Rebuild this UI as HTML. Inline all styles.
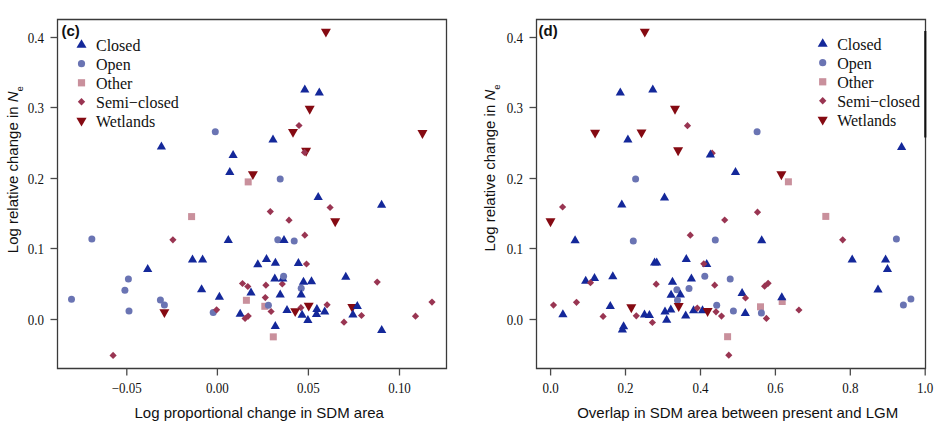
<!DOCTYPE html>
<html><head><meta charset="utf-8"><style>
html,body{margin:0;padding:0;background:#fff;}
svg{display:block;}
.tk{font-family:"Liberation Serif",serif;font-size:13px;fill:#111;}
.ax{font-family:"Liberation Sans",sans-serif;font-size:15px;fill:#111;}
.lg{font-family:"Liberation Serif",serif;font-size:16px;fill:#111;}
.tag{font-family:"Liberation Sans",sans-serif;font-size:15px;font-weight:bold;fill:#111;}
</style></head><body>
<svg width="935" height="427" viewBox="0 0 935 427">
<rect width="935" height="427" fill="#fff"/>
<path d="M57.5 19.5H446.5V368.5H57.5Z" fill="none" stroke="#3a3a3a" stroke-width="1.3"/>
<path d="M50.5 319.5H57.5" stroke="#4a4a4a" stroke-width="1.3"/>
<text transform="translate(44,324.5) scale(1,1.08)" text-anchor="end" class="tk">0.0</text>
<path d="M50.5 248.5H57.5" stroke="#4a4a4a" stroke-width="1.3"/>
<text transform="translate(44,253.5) scale(1,1.08)" text-anchor="end" class="tk">0.1</text>
<path d="M50.5 178.5H57.5" stroke="#4a4a4a" stroke-width="1.3"/>
<text transform="translate(44,183.5) scale(1,1.08)" text-anchor="end" class="tk">0.2</text>
<path d="M50.5 107.5H57.5" stroke="#4a4a4a" stroke-width="1.3"/>
<text transform="translate(44,112.5) scale(1,1.08)" text-anchor="end" class="tk">0.3</text>
<path d="M50.5 37.5H57.5" stroke="#4a4a4a" stroke-width="1.3"/>
<text transform="translate(44,42.5) scale(1,1.08)" text-anchor="end" class="tk">0.4</text>
<path d="M126.8 368.5V375.5" stroke="#4a4a4a" stroke-width="1.3"/>
<text transform="translate(126.8,393.1) scale(1,1.06)" text-anchor="middle" class="tk">−0.05</text>
<path d="M217.4 368.5V375.5" stroke="#4a4a4a" stroke-width="1.3"/>
<text transform="translate(217.4,393.1) scale(1,1.06)" text-anchor="middle" class="tk">0.00</text>
<path d="M308.4 368.5V375.5" stroke="#4a4a4a" stroke-width="1.3"/>
<text transform="translate(308.4,393.1) scale(1,1.06)" text-anchor="middle" class="tk">0.05</text>
<path d="M399.5 368.5V375.5" stroke="#4a4a4a" stroke-width="1.3"/>
<text transform="translate(399.5,393.1) scale(1,1.06)" text-anchor="middle" class="tk">0.10</text>
<text x="134.5" y="417.9" class="ax">Log proportional change in SDM area</text>
<text x="61.5" y="35.8" class="tag">(c)</text>
<path d="M81.5 39.3L86.5 47.7L76.5 47.7Z" fill="#14289a"/>
<circle cx="81.5" cy="63.7" r="3.6" fill="#6a74b3"/>
<rect x="77.9" y="79.2" width="7.2" height="7.2" fill="#c9909c"/>
<path d="M81.5 98L85.2 101.7L81.5 105.4L77.8 101.7Z" fill="#993552"/>
<path d="M76.4 117.8L86.6 117.8L81.5 126.6Z" fill="#850a12"/>
<text transform="translate(96,50.5) scale(1,1.08)" class="lg">Closed</text>
<text transform="translate(96,69.6) scale(1,1.08)" class="lg">Open</text>
<text transform="translate(96,88.7) scale(1,1.08)" class="lg">Other</text>
<text transform="translate(96,107.8) scale(1,1.08)" class="lg">Semi−closed</text>
<text transform="translate(96,126.9) scale(1,1.08)" class="lg">Wetlands</text>
<path d="M536.5 19.5H925.5V368.5H536.5Z" fill="none" stroke="#3a3a3a" stroke-width="1.3"/>
<path d="M529.5 319.5H536.5" stroke="#4a4a4a" stroke-width="1.3"/>
<text transform="translate(523,324.5) scale(1,1.08)" text-anchor="end" class="tk">0.0</text>
<path d="M529.5 248.5H536.5" stroke="#4a4a4a" stroke-width="1.3"/>
<text transform="translate(523,253.5) scale(1,1.08)" text-anchor="end" class="tk">0.1</text>
<path d="M529.5 178.5H536.5" stroke="#4a4a4a" stroke-width="1.3"/>
<text transform="translate(523,183.5) scale(1,1.08)" text-anchor="end" class="tk">0.2</text>
<path d="M529.5 107.5H536.5" stroke="#4a4a4a" stroke-width="1.3"/>
<text transform="translate(523,112.5) scale(1,1.08)" text-anchor="end" class="tk">0.3</text>
<path d="M529.5 37.5H536.5" stroke="#4a4a4a" stroke-width="1.3"/>
<text transform="translate(523,42.5) scale(1,1.08)" text-anchor="end" class="tk">0.4</text>
<path d="M550.6 368.5V375.5" stroke="#4a4a4a" stroke-width="1.3"/>
<text transform="translate(550.6,393.1) scale(1,1.06)" text-anchor="middle" class="tk">0.0</text>
<path d="M625.5 368.5V375.5" stroke="#4a4a4a" stroke-width="1.3"/>
<text transform="translate(625.5,393.1) scale(1,1.06)" text-anchor="middle" class="tk">0.2</text>
<path d="M700.5 368.5V375.5" stroke="#4a4a4a" stroke-width="1.3"/>
<text transform="translate(700.5,393.1) scale(1,1.06)" text-anchor="middle" class="tk">0.4</text>
<path d="M775.4 368.5V375.5" stroke="#4a4a4a" stroke-width="1.3"/>
<text transform="translate(775.4,393.1) scale(1,1.06)" text-anchor="middle" class="tk">0.6</text>
<path d="M850.3 368.5V375.5" stroke="#4a4a4a" stroke-width="1.3"/>
<text transform="translate(850.3,393.1) scale(1,1.06)" text-anchor="middle" class="tk">0.8</text>
<path d="M925.2 368.5V375.5" stroke="#4a4a4a" stroke-width="1.3"/>
<text transform="translate(925.2,393.1) scale(1,1.06)" text-anchor="middle" class="tk">1.0</text>
<text x="577.2" y="417.9" class="ax">Overlap in SDM area between present and LGM</text>
<text x="538.5" y="35.8" class="tag">(d)</text>
<path d="M822.7 38.3L827.7 46.7L817.7 46.7Z" fill="#14289a"/>
<circle cx="822.7" cy="62.7" r="3.6" fill="#6a74b3"/>
<rect x="819.1" y="78.2" width="7.2" height="7.2" fill="#c9909c"/>
<path d="M822.7 97L826.4 100.7L822.7 104.4L819 100.7Z" fill="#993552"/>
<path d="M817.6 116.8L827.8 116.8L822.7 125.6Z" fill="#850a12"/>
<text transform="translate(837.2,49.5) scale(1,1.08)" class="lg">Closed</text>
<text transform="translate(837.2,68.6) scale(1,1.08)" class="lg">Open</text>
<text transform="translate(837.2,87.7) scale(1,1.08)" class="lg">Other</text>
<text transform="translate(837.2,106.8) scale(1,1.08)" class="lg">Semi−closed</text>
<text transform="translate(837.2,125.9) scale(1,1.08)" class="lg">Wetlands</text>
<text transform="translate(17.5,253.2) rotate(-90)" class="ax">Log relative change in <tspan font-style="italic">N</tspan><tspan font-size="9.5" dy="5">e</tspan></text>
<text transform="translate(495,251.5) rotate(-90)" class="ax">Log relative change in <tspan font-style="italic">N</tspan><tspan font-size="9.5" dy="5">e</tspan></text>
<rect x="188.1" y="213.1" width="7" height="7" fill="#c9909c"/>
<rect x="242.9" y="296.8" width="7" height="7" fill="#c9909c"/>
<rect x="261.3" y="302.8" width="7" height="7" fill="#c9909c"/>
<rect x="269.8" y="333.35" width="7" height="7" fill="#c9909c"/>
<path d="M299 121.9L302.6 125.5L299 129.1L295.4 125.5Z" fill="#993552"/>
<path d="M330.1 203.9L333.7 207.5L330.1 211.1L326.5 207.5Z" fill="#993552"/>
<path d="M304.8 231.6L308.4 235.2L304.8 238.8L301.2 235.2Z" fill="#993552"/>
<path d="M306.5 260.4L310.1 264L306.5 267.6L302.9 264Z" fill="#993552"/>
<path d="M172.9 236.2L176.5 239.8L172.9 243.4L169.3 239.8Z" fill="#993552"/>
<path d="M113.1 351.85L116.7 355.45L113.1 359.05L109.5 355.45Z" fill="#993552"/>
<path d="M242.5 279.9L246.1 283.5L242.5 287.1L238.9 283.5Z" fill="#993552"/>
<path d="M247.8 282.9L251.4 286.5L247.8 290.1L244.2 286.5Z" fill="#993552"/>
<path d="M265.9 281.6L269.5 285.2L265.9 288.8L262.3 285.2Z" fill="#993552"/>
<path d="M282.3 280.4L285.9 284L282.3 287.6L278.7 284Z" fill="#993552"/>
<path d="M265.3 294L268.9 297.6L265.3 301.2L261.7 297.6Z" fill="#993552"/>
<path d="M271.1 307.9L274.7 311.5L271.1 315.1L267.5 311.5Z" fill="#993552"/>
<path d="M270.3 208L273.9 211.6L270.3 215.2L266.7 211.6Z" fill="#993552"/>
<path d="M289 216.6L292.6 220.2L289 223.8L285.4 220.2Z" fill="#993552"/>
<path d="M377.2 278.5L380.8 282.1L377.2 285.7L373.6 282.1Z" fill="#993552"/>
<path d="M432 298.5L435.6 302.1L432 305.7L428.4 302.1Z" fill="#993552"/>
<path d="M415.5 312.6L419.1 316.2L415.5 319.8L411.9 316.2Z" fill="#993552"/>
<path d="M344 318.6L347.6 322.2L344 325.8L340.4 322.2Z" fill="#993552"/>
<path d="M361.5 311.9L365.1 315.5L361.5 319.1L357.9 315.5Z" fill="#993552"/>
<path d="M300.9 304.1L304.5 307.7L300.9 311.3L297.3 307.7Z" fill="#993552"/>
<path d="M320.9 28.65L330.9 28.65L325.9 37.55Z" fill="#850a12"/>
<path d="M304.7 105.85L314.7 105.85L309.7 114.75Z" fill="#850a12"/>
<path d="M288 128.95L298 128.95L293 137.85Z" fill="#850a12"/>
<path d="M301.1 147.85L311.1 147.85L306.1 156.75Z" fill="#850a12"/>
<path d="M247.9 171.15L257.9 171.15L252.9 180.05Z" fill="#850a12"/>
<path d="M417.45 130L427.45 130L422.45 138.9Z" fill="#850a12"/>
<path d="M330.2 218.25L340.2 218.25L335.2 227.15Z" fill="#850a12"/>
<path d="M159.4 309.15L169.4 309.15L164.4 318.05Z" fill="#850a12"/>
<path d="M290.2 308.15L300.2 308.15L295.2 317.05Z" fill="#850a12"/>
<path d="M303.7 302.65L313.7 302.65L308.7 311.55Z" fill="#850a12"/>
<path d="M347.3 304.05L357.3 304.05L352.3 312.95Z" fill="#850a12"/>
<rect x="244.7" y="178.4" width="7" height="7" fill="#c9909c"/>
<path d="M304.5 148.8L308.1 152.4L304.5 156L300.9 152.4Z" fill="#993552"/>
<circle cx="215.3" cy="131.8" r="3.5" fill="#6a74b3"/>
<circle cx="280.2" cy="179.1" r="3.5" fill="#6a74b3"/>
<circle cx="91.85" cy="239.05" r="3.5" fill="#6a74b3"/>
<circle cx="128.4" cy="278.9" r="3.5" fill="#6a74b3"/>
<circle cx="124.9" cy="290.3" r="3.5" fill="#6a74b3"/>
<circle cx="71.5" cy="299.2" r="3.5" fill="#6a74b3"/>
<circle cx="129" cy="310.9" r="3.5" fill="#6a74b3"/>
<circle cx="160.4" cy="299.9" r="3.5" fill="#6a74b3"/>
<circle cx="164.4" cy="305.1" r="3.5" fill="#6a74b3"/>
<circle cx="213.2" cy="312.6" r="3.5" fill="#6a74b3"/>
<circle cx="268.4" cy="305.3" r="3.5" fill="#6a74b3"/>
<circle cx="294.2" cy="241" r="3.5" fill="#6a74b3"/>
<circle cx="277.8" cy="239.7" r="3.5" fill="#6a74b3"/>
<circle cx="301.2" cy="288.3" r="3.5" fill="#6a74b3"/>
<path d="M216.6 306.2L220.2 309.8L216.6 313.4L213 309.8Z" fill="#993552"/>
<path d="M304.8 84.5L309.4 92.5L300.2 92.5Z" fill="#14289a"/>
<path d="M319.3 87.6L323.9 95.6L314.7 95.6Z" fill="#14289a"/>
<path d="M161.4 141.5L166 149.5L156.8 149.5Z" fill="#14289a"/>
<path d="M273 134.6L277.6 142.6L268.4 142.6Z" fill="#14289a"/>
<path d="M233.1 150L237.7 158L228.5 158Z" fill="#14289a"/>
<path d="M229.8 166.9L234.4 174.9L225.2 174.9Z" fill="#14289a"/>
<path d="M318.2 191.9L322.8 199.9L313.6 199.9Z" fill="#14289a"/>
<path d="M381.6 199.7L386.2 207.7L377 207.7Z" fill="#14289a"/>
<path d="M147.7 263.9L152.3 271.9L143.1 271.9Z" fill="#14289a"/>
<path d="M192.5 254.5L197.1 262.5L187.9 262.5Z" fill="#14289a"/>
<path d="M202.6 254.5L207.2 262.5L198 262.5Z" fill="#14289a"/>
<path d="M228.3 235.1L232.9 243.1L223.7 243.1Z" fill="#14289a"/>
<path d="M201.6 284.3L206.2 292.3L197 292.3Z" fill="#14289a"/>
<path d="M219.4 291.7L224 299.7L214.8 299.7Z" fill="#14289a"/>
<path d="M251 287.6L255.6 295.6L246.4 295.6Z" fill="#14289a"/>
<path d="M240.2 308.8L244.8 316.8L235.6 316.8Z" fill="#14289a"/>
<path d="M257.8 259.3L262.4 267.3L253.2 267.3Z" fill="#14289a"/>
<path d="M266.5 254L271.1 262L261.9 262Z" fill="#14289a"/>
<path d="M275.4 257.7L280 265.7L270.8 265.7Z" fill="#14289a"/>
<path d="M298.4 258.1L303 266.1L293.8 266.1Z" fill="#14289a"/>
<path d="M274.8 273.6L279.4 281.6L270.2 281.6Z" fill="#14289a"/>
<path d="M280.2 289.4L284.8 297.4L275.6 297.4Z" fill="#14289a"/>
<path d="M275.3 321L279.9 329L270.7 329Z" fill="#14289a"/>
<path d="M303.5 276.8L308.1 284.8L298.9 284.8Z" fill="#14289a"/>
<path d="M311.5 276.3L316.1 284.3L306.9 284.3Z" fill="#14289a"/>
<path d="M345.8 271.8L350.4 279.8L341.2 279.8Z" fill="#14289a"/>
<path d="M301.2 289.4L305.8 297.4L296.6 297.4Z" fill="#14289a"/>
<path d="M287 305L291.6 313L282.4 313Z" fill="#14289a"/>
<path d="M302.1 309.7L306.7 317.7L297.5 317.7Z" fill="#14289a"/>
<path d="M307.9 315L312.5 323L303.3 323Z" fill="#14289a"/>
<path d="M316.9 304.1L321.5 312.1L312.3 312.1Z" fill="#14289a"/>
<path d="M316.5 308.9L321.1 316.9L311.9 316.9Z" fill="#14289a"/>
<path d="M324.7 306.5L329.3 314.5L320.1 314.5Z" fill="#14289a"/>
<path d="M357.3 300.9L361.9 308.9L352.7 308.9Z" fill="#14289a"/>
<path d="M352.9 309.4L357.5 317.4L348.3 317.4Z" fill="#14289a"/>
<path d="M381.7 325L386.3 333L377.1 333Z" fill="#14289a"/>
<path d="M284 234.9L288.6 242.9L279.4 242.9Z" fill="#14289a"/>
<path d="M282.8 273.4L287.4 281.4L278.2 281.4Z" fill="#14289a"/>
<path d="M245.1 314.8L248.7 318.4L245.1 322L241.5 318.4Z" fill="#993552"/>
<path d="M248.2 312.5L251.8 316.1L248.2 319.7L244.6 316.1Z" fill="#993552"/>
<path d="M327.1 301.2L330.7 304.8L327.1 308.4L323.5 304.8Z" fill="#993552"/>
<circle cx="283.6" cy="276.3" r="3.5" fill="#6a74b3"/>
<rect x="822.3" y="212.9" width="7" height="7" fill="#c9909c"/>
<rect x="778.7" y="298" width="7" height="7" fill="#c9909c"/>
<rect x="757" y="303.3" width="7" height="7" fill="#c9909c"/>
<rect x="724.1" y="333.2" width="7" height="7" fill="#c9909c"/>
<path d="M687.5 122.1L691.1 125.7L687.5 129.3L683.9 125.7Z" fill="#993552"/>
<path d="M712.2 149.6L715.8 153.2L712.2 156.8L708.6 153.2Z" fill="#993552"/>
<path d="M562.6 203.4L566.2 207L562.6 210.6L559 207Z" fill="#993552"/>
<path d="M690.3 231.6L693.9 235.2L690.3 238.8L686.7 235.2Z" fill="#993552"/>
<path d="M757.5 208.6L761.1 212.2L757.5 215.8L753.9 212.2Z" fill="#993552"/>
<path d="M724.7 216.4L728.3 220L724.7 223.6L721.1 220Z" fill="#993552"/>
<path d="M842.7 236.2L846.3 239.8L842.7 243.4L839.1 239.8Z" fill="#993552"/>
<path d="M656.2 280.6L659.8 284.2L656.2 287.8L652.6 284.2Z" fill="#993552"/>
<path d="M714.7 281.6L718.3 285.2L714.7 288.8L711.1 285.2Z" fill="#993552"/>
<path d="M764.6 282.6L768.2 286.2L764.6 289.8L761 286.2Z" fill="#993552"/>
<path d="M768.1 279.7L771.7 283.3L768.1 286.9L764.5 283.3Z" fill="#993552"/>
<path d="M721.5 312.5L725.1 316.1L721.5 319.7L717.9 316.1Z" fill="#993552"/>
<path d="M766.4 314.8L770 318.4L766.4 322L762.8 318.4Z" fill="#993552"/>
<path d="M553.5 301.5L557.1 305.1L553.5 308.7L549.9 305.1Z" fill="#993552"/>
<path d="M576.5 298.7L580.1 302.3L576.5 305.9L572.9 302.3Z" fill="#993552"/>
<path d="M603.1 312.8L606.7 316.4L603.1 320L599.5 316.4Z" fill="#993552"/>
<path d="M652.4 318.9L656 322.5L652.4 326.1L648.8 322.5Z" fill="#993552"/>
<path d="M798.9 306.4L802.5 310L798.9 313.6L795.3 310Z" fill="#993552"/>
<path d="M728.8 351.6L732.4 355.2L728.8 358.8L725.2 355.2Z" fill="#993552"/>
<path d="M639.8 28.65L649.8 28.65L644.8 37.55Z" fill="#850a12"/>
<path d="M670 105.85L680 105.85L675 114.75Z" fill="#850a12"/>
<path d="M590.1 129.65L600.1 129.65L595.1 138.55Z" fill="#850a12"/>
<path d="M636.5 129.45L646.5 129.45L641.5 138.35Z" fill="#850a12"/>
<path d="M673.1 147.25L683.1 147.25L678.1 156.15Z" fill="#850a12"/>
<path d="M776.4 171.25L786.4 171.25L781.4 180.15Z" fill="#850a12"/>
<path d="M545.5 218.35L555.5 218.35L550.5 227.25Z" fill="#850a12"/>
<path d="M626.3 304.35L636.3 304.35L631.3 313.25Z" fill="#850a12"/>
<rect x="784.9" y="178.3" width="7" height="7" fill="#c9909c"/>
<path d="M636.3 312.2L639.9 315.8L636.3 319.4L632.7 315.8Z" fill="#993552"/>
<circle cx="635.6" cy="179.1" r="3.5" fill="#6a74b3"/>
<circle cx="757.1" cy="131.8" r="3.5" fill="#6a74b3"/>
<circle cx="633.3" cy="241.1" r="3.5" fill="#6a74b3"/>
<circle cx="715.3" cy="239.9" r="3.5" fill="#6a74b3"/>
<circle cx="704.8" cy="276.2" r="3.5" fill="#6a74b3"/>
<circle cx="730.2" cy="279" r="3.5" fill="#6a74b3"/>
<circle cx="676.9" cy="289.8" r="3.5" fill="#6a74b3"/>
<circle cx="689" cy="288.4" r="3.5" fill="#6a74b3"/>
<circle cx="716.7" cy="305.2" r="3.5" fill="#6a74b3"/>
<circle cx="733.4" cy="311" r="3.5" fill="#6a74b3"/>
<circle cx="761.4" cy="312.9" r="3.5" fill="#6a74b3"/>
<circle cx="896.4" cy="238.9" r="3.5" fill="#6a74b3"/>
<circle cx="910.9" cy="299.1" r="3.5" fill="#6a74b3"/>
<circle cx="903.4" cy="305" r="3.5" fill="#6a74b3"/>
<path d="M716 308.2L719.6 311.8L716 315.4L712.4 311.8Z" fill="#993552"/>
<path d="M620.3 87.6L624.9 95.6L615.7 95.6Z" fill="#14289a"/>
<path d="M652.8 84.6L657.4 92.6L648.2 92.6Z" fill="#14289a"/>
<path d="M627.9 134.6L632.5 142.6L623.3 142.6Z" fill="#14289a"/>
<path d="M710.4 149.5L715 157.5L705.8 157.5Z" fill="#14289a"/>
<path d="M735.5 166.9L740.1 174.9L730.9 174.9Z" fill="#14289a"/>
<path d="M664.5 192.4L669.1 200.4L659.9 200.4Z" fill="#14289a"/>
<path d="M621.8 199.6L626.4 207.6L617.2 207.6Z" fill="#14289a"/>
<path d="M575.1 235.2L579.7 243.2L570.5 243.2Z" fill="#14289a"/>
<path d="M761.7 235.2L766.3 243.2L757.1 243.2Z" fill="#14289a"/>
<path d="M585.7 275.8L590.3 283.8L581.1 283.8Z" fill="#14289a"/>
<path d="M594.5 272.9L599.1 280.9L589.9 280.9Z" fill="#14289a"/>
<path d="M612.8 271.3L617.4 279.3L608.2 279.3Z" fill="#14289a"/>
<path d="M610.3 301.1L614.9 309.1L605.7 309.1Z" fill="#14289a"/>
<path d="M562.9 309.3L567.5 317.3L558.3 317.3Z" fill="#14289a"/>
<path d="M654.6 257.4L659.2 265.4L650 265.4Z" fill="#14289a"/>
<path d="M656.7 257.4L661.3 265.4L652.1 265.4Z" fill="#14289a"/>
<path d="M686.3 254L690.9 262L681.7 262Z" fill="#14289a"/>
<path d="M706.7 259.1L711.3 267.1L702.1 267.1Z" fill="#14289a"/>
<path d="M672.5 276.8L677.1 284.8L667.9 284.8Z" fill="#14289a"/>
<path d="M691.4 273.4L696 281.4L686.8 281.4Z" fill="#14289a"/>
<path d="M671.1 289.7L675.7 297.7L666.5 297.7Z" fill="#14289a"/>
<path d="M680.4 289.5L685 297.5L675.8 297.5Z" fill="#14289a"/>
<path d="M644.5 309.4L649.1 317.4L639.9 317.4Z" fill="#14289a"/>
<path d="M649.4 310L654 318L644.8 318Z" fill="#14289a"/>
<path d="M665 306.5L669.6 314.5L660.4 314.5Z" fill="#14289a"/>
<path d="M670.8 304.5L675.4 312.5L666.2 312.5Z" fill="#14289a"/>
<path d="M666.7 314.8L671.3 322.8L662.1 322.8Z" fill="#14289a"/>
<path d="M685.7 310.5L690.3 318.5L681.1 318.5Z" fill="#14289a"/>
<path d="M693.6 305.3L698.2 313.3L689 313.3Z" fill="#14289a"/>
<path d="M702.5 305.3L707.1 313.3L697.9 313.3Z" fill="#14289a"/>
<path d="M742.1 287.9L746.7 295.9L737.5 295.9Z" fill="#14289a"/>
<path d="M745.3 308L749.9 316L740.7 316Z" fill="#14289a"/>
<path d="M781.8 292.3L786.4 300.3L777.2 300.3Z" fill="#14289a"/>
<path d="M852.2 254.5L856.8 262.5L847.6 262.5Z" fill="#14289a"/>
<path d="M885.6 254.4L890.2 262.4L881 262.4Z" fill="#14289a"/>
<path d="M887.5 264L892.1 272L882.9 272Z" fill="#14289a"/>
<path d="M878 284.5L882.6 292.5L873.4 292.5Z" fill="#14289a"/>
<path d="M901.6 142.1L906.2 150.1L897 150.1Z" fill="#14289a"/>
<path d="M623.6 321.2L628.2 329.2L619 329.2Z" fill="#14289a"/>
<path d="M622.4 324.5L627 332.5L617.8 332.5Z" fill="#14289a"/>
<path d="M703.8 260.2L707.4 263.8L703.8 267.4L700.2 263.8Z" fill="#993552"/>
<path d="M590.5 279.1L594.1 282.7L590.5 286.3L586.9 282.7Z" fill="#993552"/>
<path d="M745.5 294.4L749.1 298L745.5 301.6L741.9 298Z" fill="#993552"/>
<path d="M697.3 304.5L700.9 308.1L697.3 311.7L693.7 308.1Z" fill="#993552"/>
<circle cx="677.5" cy="300.3" r="3.5" fill="#6a74b3"/>
<path d="M702.6 308.05L712.6 308.05L707.6 316.95Z" fill="#850a12"/>
<path d="M673.7 303.05L683.7 303.05L678.7 311.95Z" fill="#850a12"/>
<path d="M925.3 31V137.5" stroke="#111" stroke-width="2.1"/>
</svg>
</body></html>
